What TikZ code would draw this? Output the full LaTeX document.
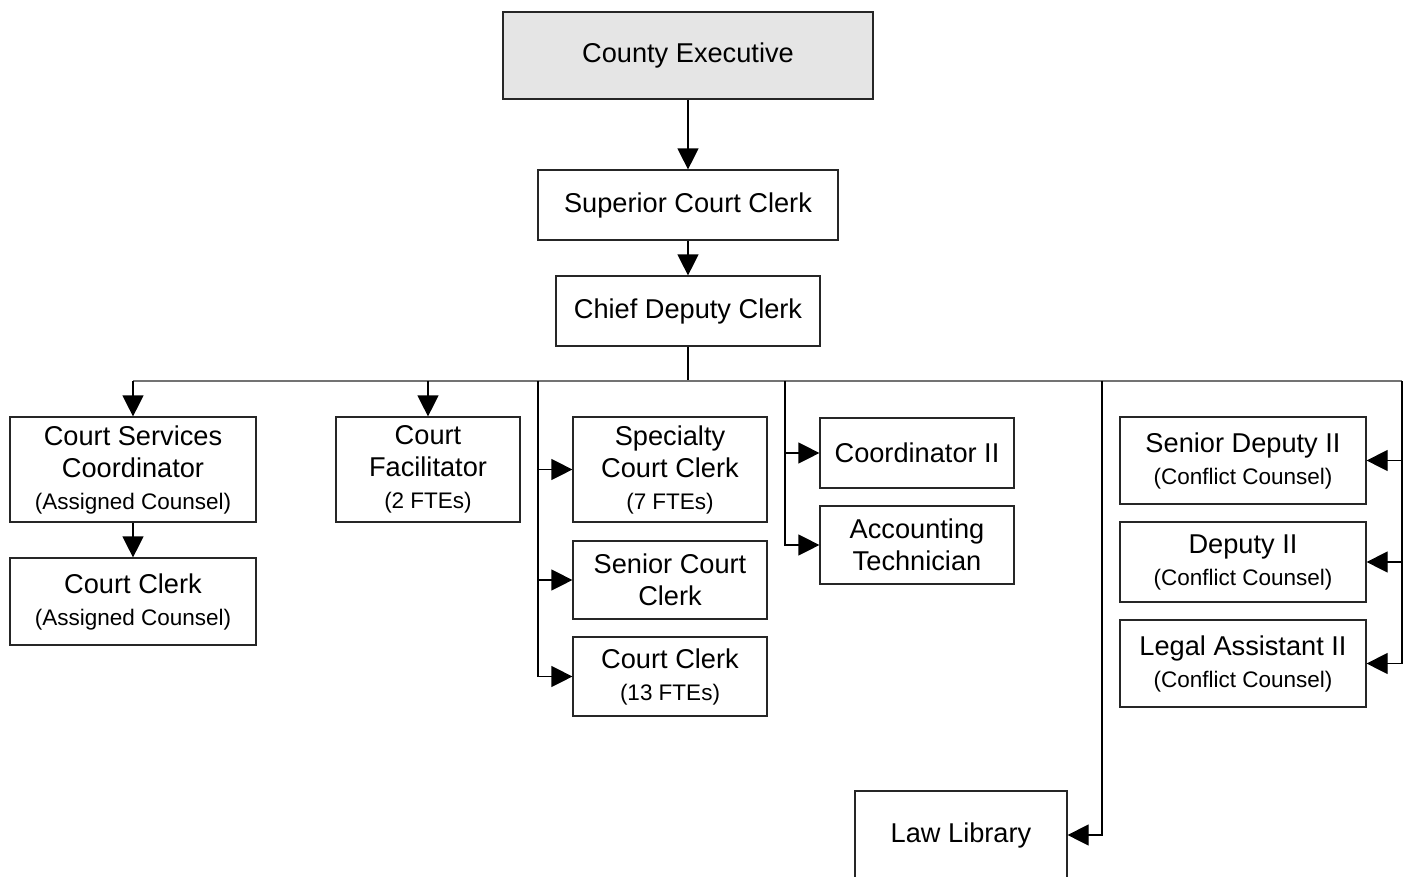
\documentclass[tikz,border=0pt]{standalone}
\usepackage{fontspec}
\setmainfont{Liberation Sans}
\usetikzlibrary{arrows.meta}
\newcommand\subtxt[1]{{\fontsize{22.5}{28}\selectfont #1}}
\begin{document}
\begin{tikzpicture}[x=1pt,y=-1pt,
  box/.style={draw=black!85, line width=1.2pt, rectangle, inner sep=0pt, align=center,
    font=\fontsize{27.2}{32}\selectfont},
  arr/.style={line width=1.2pt, -{Triangle[length=21pt,width=21pt]}},
  ln/.style={line width=1.2pt},
  busline/.style={line width=1.8pt, draw=black!55}]
\useasboundingbox (0,0) rectangle (1408,876);
% top chain
\node[box, fill=black!10, minimum width=370pt, minimum height=87pt] (ce) at (688,55.5) {County Executive};
\node[box, minimum width=300pt, minimum height=70pt] (scc) at (688,205) {Superior Court Clerk};
\node[box, minimum width=264pt, minimum height=70pt] (cdc) at (688,311) {Chief Deputy Clerk};
% left
\node[box, minimum width=246pt, minimum height=105pt] (csc) at (133,469.5) {Court Services\\Coordinator\\\subtxt{(Assigned Counsel)}};
\node[box, minimum width=246pt, minimum height=87pt] (cca) at (133,601.5) {Court Clerk\\\subtxt{(Assigned Counsel)}};
\node[box, minimum width=184pt, minimum height=105pt] (cf) at (428,469.5) {Court\\Facilitator\\\subtxt{(2 FTEs)}};
% middle
\node[box, minimum width=194pt, minimum height=105pt] (spc) at (670,469.5) {Specialty\\Court Clerk\\\subtxt{(7 FTEs)}};
\node[box, minimum width=194pt, minimum height=78pt] (scl) at (670,580) {Senior Court\\Clerk};
\node[box, minimum width=194pt, minimum height=79pt] (cc13) at (670,676.5) {Court Clerk\\\subtxt{(13 FTEs)}};
\node[box, minimum width=194pt, minimum height=70pt] (co2) at (917,453) {Coordinator II};
\node[box, minimum width=194pt, minimum height=78pt] (act) at (917,545) {Accounting\\Technician};
\node[box, minimum width=212pt, minimum height=88pt] (ll) at (961,835) {Law Library};
% right
\node[box, minimum width=246pt, minimum height=87pt] (sd2) at (1243,460.5) {Senior Deputy II\\\subtxt{(Conflict Counsel)}};
\node[box, minimum width=246pt, minimum height=80pt] (d2) at (1243,562) {Deputy II\\\subtxt{(Conflict Counsel)}};
\node[box, minimum width=246pt, minimum height=87pt] (la2) at (1243,663.5) {Legal Assistant II\\\subtxt{(Conflict Counsel)}};
% connectors
\coordinate (busL) at (133,381);
\coordinate (busR) at (1402,381);
\coordinate (b1) at (538,381);
\coordinate (b2) at (785,381);
\coordinate (b3) at (1102,381);
\draw[arr] (ce) -- (scc);
\draw[arr] (scc) -- (cdc);
\draw[ln] (cdc.south) -- (cdc.south |- busL);
\draw[busline] (busL) -- (busR);
\draw[arr] (busL) -- (csc);
\draw[arr] (csc) -- (cca);
\draw[arr] (cf.north |- busL) -- (cf);
\draw[arr] (b1) |- (spc);
\draw[arr] (b1) |- (scl);
\draw[arr] (b1) |- (cc13);
\draw[arr] (b2) |- (co2);
\draw[arr] (b2) |- (act);
\draw[arr] (b3) |- (ll);
\draw[arr] (busR) |- (sd2);
\draw[arr] (busR) |- (d2);
\draw[arr] (busR) |- (la2);
\end{tikzpicture}
\end{document}
